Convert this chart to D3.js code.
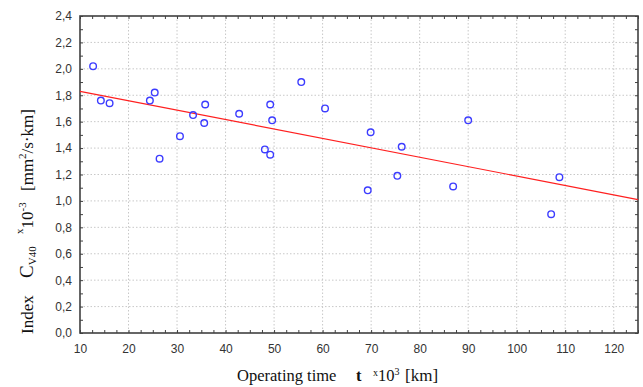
<!DOCTYPE html>
<html>
<head>
<meta charset="utf-8">
<script src="https://cdn.jsdelivr.net/npm/d3@7"></script>
<style>
  body { margin: 0; background: #fff; }
</style>
</head>
<body>
<div id="chart"></div>
<script>
// operating time t [x10^3 km]
const timeKm = [12.7, 14.3, 16.1, 24.4, 25.4, 26.4, 30.6, 33.3, 35.6, 35.8, 42.8, 48.1, 49.2, 49.2, 49.6,
  55.6, 60.5, 69.3, 69.9, 75.4, 76.3, 86.9, 90.0, 107.1, 108.8];
// index C_V40 [x10^-3 mm2/s.km]
const indexCv40 = [2.02, 1.76, 1.74, 1.76, 1.82, 1.32, 1.49, 1.65, 1.59, 1.73, 1.66, 1.39, 1.35, 1.73, 1.61,
  1.90, 1.70, 1.08, 1.52, 1.19, 1.41, 1.11, 1.61, 0.90, 1.18];
// fitted line, read at the two ends of the axis
const trendT = [10, 125];
const trendV = [1.83, 1.01];

const xTicks = [10, 20, 30, 40, 50, 60, 70, 80, 90, 100, 110, 120];
const yTicks = [0, 0.2, 0.4, 0.6, 0.8, 1.0, 1.2, 1.4, 1.6, 1.8, 2.0, 2.2, 2.4];

const W = 643, H = 387;
const margin = { top: 16, right: 5, bottom: 54, left: 80 };
const width = W - margin.left - margin.right;
const height = H - margin.top - margin.bottom;

const svg = d3.select("#chart").append("svg")
  .attr("width", W).attr("height", H);

const g = svg.append("g")
  .attr("transform", "translate(" + margin.left + "," + margin.top + ")");

const x = d3.scaleLinear().domain([10, 125]).range([0, width]);
const y = d3.scaleLinear().domain([0, 2.4]).range([height, 0]);

// dotted grid
g.append("g").selectAll("line").data(xTicks.slice(1)).enter().append("line")
  .attr("x1", d => x(d)).attr("x2", d => x(d))
  .attr("y1", 0).attr("y2", height)
  .attr("stroke", "#c8c8c8").attr("stroke-dasharray", "1.5,2");
g.append("g").selectAll("line").data(yTicks.slice(1, -1)).enter().append("line")
  .attr("y1", d => y(d)).attr("y2", d => y(d))
  .attr("x1", 0).attr("x2", width)
  .attr("stroke", "#c8c8c8").attr("stroke-dasharray", "1.5,2");

// inward ticks on all four sides (minor ticks included)
const xMinor = d3.range(10, 125.01, 2.5);
const yMinor = d3.range(0, 2.401, 0.1);
const tickStyle = sel => sel.call(s => s.select(".domain").remove())
  .call(s => s.selectAll("text").remove())
  .call(s => s.selectAll("line").attr("stroke", "#404040"));

g.append("g").attr("transform", "translate(0," + height + ")")
  .call(d3.axisTop(x).tickValues(xMinor).tickSize(3)).call(tickStyle);
g.append("g")
  .call(d3.axisBottom(x).tickValues(xMinor).tickSize(3)).call(tickStyle);
g.append("g")
  .call(d3.axisRight(y).tickValues(yMinor).tickSize(3)).call(tickStyle);
g.append("g").attr("transform", "translate(" + width + ",0)")
  .call(d3.axisLeft(y).tickValues(yMinor).tickSize(3)).call(tickStyle);

// tick labels
const fmt = d => d3.format(".1f")(d).replace(".", ",");
g.append("g").attr("transform", "translate(0," + height + ")")
  .call(d3.axisBottom(x).tickValues(xTicks).tickSize(0).tickPadding(11))
  .call(s => s.select(".domain").remove())
  .selectAll("text")
  .attr("font-family", "Liberation Sans, Arial, sans-serif")
  .attr("font-size", 12).attr("fill", "#333");
g.append("g")
  .call(d3.axisLeft(y).tickValues(yTicks).tickFormat(fmt).tickSize(0).tickPadding(8))
  .call(s => s.select(".domain").remove())
  .selectAll("text")
  .attr("font-family", "Liberation Sans, Arial, sans-serif")
  .attr("font-size", 12).attr("fill", "#333");

// frame
g.append("rect")
  .attr("width", width).attr("height", height)
  .attr("fill", "none").attr("stroke", "#404040").attr("stroke-width", 1.6);

// regression line
const line = d3.line().x(d => x(d[0])).y(d => y(d[1]));
g.append("path")
  .datum(trendT.map((t, i) => [t, trendV[i]]))
  .attr("d", line)
  .attr("fill", "none").attr("stroke", "#ff2020").attr("stroke-width", 1.2);

// points
g.append("g").selectAll("circle")
  .data(timeKm.map((t, i) => [t, indexCv40[i]]))
  .enter().append("circle")
  .attr("cx", d => x(d[0])).attr("cy", d => y(d[1]))
  .attr("r", 3.3)
  .attr("fill", "none").attr("stroke", "#3c3cff").attr("stroke-width", 1.4);

// axis titles - each piece placed on its own
const serif = "Liberation Serif, Times New Roman, serif";
const xLab = (px) => svg.append("text")
  .attr("x", px).attr("y", 381)
  .attr("font-family", serif).attr("font-size", 16.5).attr("fill", "#111");
xLab(237).text("Operating time");
xLab(356).attr("font-weight", "bold").text("t");
const x3 = xLab(373);
x3.append("tspan").attr("font-size", 10).attr("dy", -5).text("x");
x3.append("tspan").attr("dy", 5).text("10");
x3.append("tspan").attr("font-size", 10).attr("dy", -6).text("3");
xLab(405).attr("font-size", 17).text("[km]");

const yLab = (py) => svg.append("text")
  .attr("transform", "translate(33," + py + ") rotate(-90)")
  .attr("font-family", serif).attr("font-size", 17).attr("fill", "#111");
yLab(334).text("Index");
const yc = yLab(278);
yc.append("tspan").attr("font-size", 19).text("C");
yc.append("tspan").attr("font-size", 11).attr("dy", 3).text("V40");
const yx = yLab(234);
yx.append("tspan").attr("font-size", 11).attr("dy", -10).text("x");
yx.append("tspan").attr("dy", 10).text("10");
yx.append("tspan").attr("font-size", 11).attr("dy", -7).text("-3");
const yu = yLab(191);
yu.append("tspan").text("[mm");
yu.append("tspan").attr("font-size", 11).attr("dy", -7).text("2");
yu.append("tspan").attr("dy", 7).text("/s\u00b7km]");
</script>
</body>
</html>
